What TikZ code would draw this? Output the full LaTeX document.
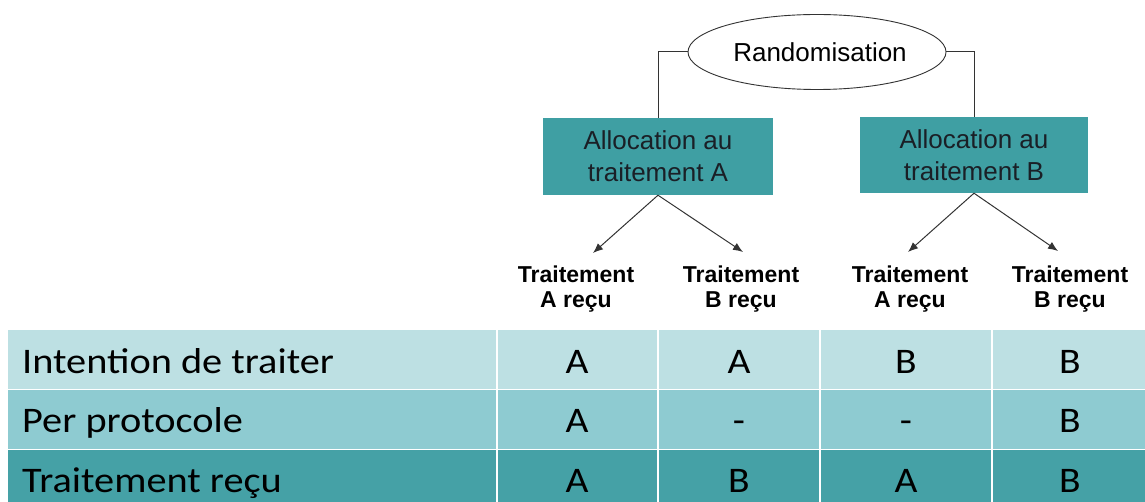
\documentclass[tikz,border=0pt]{standalone}
\usepackage{fontspec}
\setmainfont{Liberation Sans}
\newfontfamily\calib{Carlito}
\usetikzlibrary{shapes.geometric,arrows.meta}
\definecolor{rowone}{HTML}{BDE0E3}
\definecolor{rowtwo}{HTML}{8ECBD1}
\definecolor{rowthree}{HTML}{45A1A6}
\definecolor{boxfill}{HTML}{3F9FA3}
\definecolor{linegray}{HTML}{333333}
\definecolor{boxtext}{HTML}{1A1F26}
\begin{document}
\begin{tikzpicture}[x=1pt,y=-1pt,
  conn/.style={draw=linegray, line width=1pt},
  arr/.style={draw=linegray, line width=1pt, -{Latex[length=10pt,width=8pt]}},
  allocbox/.style={rectangle, fill=boxfill, text=boxtext, align=center, inner sep=0pt,
    font=\fontsize{26}{32}\selectfont},
  leaf/.style={align=center, inner sep=0pt, font=\fontsize{23}{25}\selectfont\bfseries},
  rowlabel/.style={anchor=base west, inner sep=0pt, font=\fontsize{36}{40}\selectfont\calib},
  cell/.style={anchor=base, inner sep=0pt, font=\fontsize{36}{40}\selectfont\calib}
]
\useasboundingbox (0,0) rectangle (1145,502);

% table rows
\fill[rowone] (8,330) rectangle (1145,389);
\fill[rowtwo] (8,390) rectangle (1145,449);
\fill[rowthree] (8,450) rectangle (1145,502);
\foreach \x in {497,658,820,992} \draw[white, line width=1.5pt] (\x,330) -- (\x,502);
\foreach \y in {389.5,449.5} \draw[white, line width=1.5pt] (8,\y) -- (1145,\y);

% ellipse
\node[ellipse, draw=linegray, fill=white, line width=0.9pt, minimum width=258pt, minimum height=75pt,
  inner sep=0pt, font=\fontsize{26}{30}\selectfont] (rando) at (817,52) {\hspace{6pt}Randomisation};

% allocation boxes
\node[allocbox, minimum width=230pt, minimum height=77pt] (allocA) at (658,156.5) {Allocation au\\traitement A};
\node[allocbox, minimum width=228pt, minimum height=76pt] (allocB) at (974,155) {Allocation au\\traitement B};

\draw[conn] (rando.west) -| (allocA.north);
\draw[conn] (rando.east) -| (allocB.north);

% arrow tips
\coordinate (tAA) at (593,253);
\coordinate (tAB) at (743,252);
\coordinate (tBA) at (908,252);
\coordinate (tBB) at (1058,251);
\draw[arr] (allocA.south) -- (tAA);
\draw[arr] (allocA.south) -- (tAB);
\draw[arr] (allocB.south) -- (tBA);
\draw[arr] (allocB.south) -- (tBB);

% leaf labels
\node[leaf] (lAA) at (576,289) {Traitement\\A reçu};
\node[leaf] (lAB) at (741,289) {Traitement\\B reçu};
\node[leaf] (lBA) at (910,289) {Traitement\\A reçu};
\node[leaf] (lBB) at (1070,289) {Traitement\\B reçu};

% row labels
\node[rowlabel] (r1) at (22,373) {\scalebox{1.12}[1]{Intention de traiter}};
\node[rowlabel] (r2) at (22,432) {\scalebox{1.12}[1]{Per protocole}};
\node[rowlabel] (r3) at (22,492) {\scalebox{1.12}[1]{Traitement reçu}};

% cells
\node[cell] (c11) at (577,373) {\scalebox{1.1}[1]{A}};
\node[cell] (c12) at (739,373) {\scalebox{1.1}[1]{A}};
\node[cell] (c13) at (906,373) {\scalebox{1.1}[1]{B}};
\node[cell] (c14) at (1070,373) {\scalebox{1.1}[1]{B}};
\node[cell] (c21) at (577,432) {\scalebox{1.1}[1]{A}};
\node[cell] (c22) at (739,432) {\scalebox{1.1}[1]{-}};
\node[cell] (c23) at (906,432) {\scalebox{1.1}[1]{-}};
\node[cell] (c24) at (1070,432) {\scalebox{1.1}[1]{B}};
\node[cell] (c31) at (577,492) {\scalebox{1.1}[1]{A}};
\node[cell] (c32) at (739,492) {\scalebox{1.1}[1]{B}};
\node[cell] (c33) at (906,492) {\scalebox{1.1}[1]{A}};
\node[cell] (c34) at (1070,492) {\scalebox{1.1}[1]{B}};
\end{tikzpicture}
\end{document}
